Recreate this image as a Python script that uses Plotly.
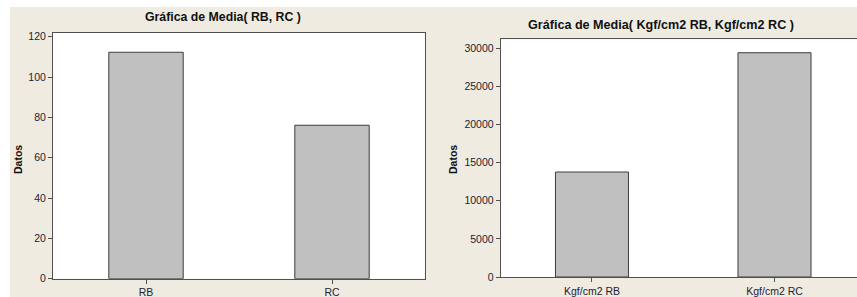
import plotly.graph_objects as go

W, H = 857, 297

cats_left = ["RB", "RC"]
vals_left = [112.3, 76.1]
cats_right = ["Kgf/cm2 RB", "Kgf/cm2 RC"]
vals_right = [13770, 29420]
ticks_left = [0, 20, 40, 60, 80, 100, 120]
ticks_right = [0, 5000, 10000, 15000, 20000, 25000, 30000]

title_left = "Gráfica de Media( RB, RC )"
title_right = "Gráfica de Media( Kgf/cm2 RB, Kgf/cm2 RC )"
ytitle = "Datos"

BEIGE = "#efebe1"
FONT = "Liberation Sans"
TICKC = "#222233"

fig = go.Figure()
bar_style = dict(marker=dict(color="#c0c0c0", line=dict(color="#3c3c3c", width=1)),
                 width=0.4, showlegend=False, hoverinfo="x+y")
fig.add_trace(go.Bar(x=cats_left, y=vals_left, xaxis="x", yaxis="y", **bar_style))
fig.add_trace(go.Bar(x=cats_right, y=vals_right, xaxis="x2", yaxis="y2", **bar_style))


def px(x):
    return x / W


def py(y):
    return 1 - y / H


axis_common = dict(showline=True, linecolor="#505050", linewidth=1, showgrid=False,
                   zeroline=False, ticks="outside", ticklen=4, tickcolor="#505050",
                   automargin=False,
                   tickfont=dict(family=FONT, size=10.5, color=TICKC))

fig.update_layout(
    width=W, height=H,
    margin=dict(l=0, r=0, t=0, b=0, autoexpand=False),
    paper_bgcolor=BEIGE, plot_bgcolor="white",
    xaxis=dict(domain=[px(53), px(425)], range=[-0.5, 1.5], mirror=True,
               anchor="y", **axis_common),
    yaxis=dict(domain=[py(278.7), py(32.7)], range=[0, 122], mirror=True,
               anchor="x", tickvals=ticks_left, tickformat="d", **axis_common),
    xaxis2=dict(domain=[px(500.7), 1], range=[-0.5, 1.452], mirror=True,
                anchor="y2", **axis_common),
    yaxis2=dict(domain=[py(277), py(39.3)], range=[0, 31180], mirror=False,
                anchor="x2", tickvals=ticks_right, tickformat="d", **axis_common),
    shapes=[
        dict(type="rect", xref="paper", yref="paper", x0=0, x1=px(10), y0=0, y1=1,
             fillcolor="white", line=dict(width=0), layer="below"),
        dict(type="rect", xref="paper", yref="paper", x0=0, x1=1, y0=py(7), y1=1,
             fillcolor="white", line=dict(width=0), layer="below"),
    ],
    annotations=[
        dict(text="<b>%s</b>" % title_left, x=px(222.5), y=py(17), xref="paper", yref="paper",
             showarrow=False, xanchor="center", yanchor="middle",
             font=dict(family=FONT, size=12.3, color="#111111")),
        dict(text="<b>%s</b>" % title_right, x=px(660.5), y=py(25), xref="paper", yref="paper",
             showarrow=False, xanchor="center", yanchor="middle",
             font=dict(family=FONT, size=12.6, color="#111111")),
        dict(text="<b>%s</b>" % ytitle, x=px(18), y=py(160), xref="paper", yref="paper",
             showarrow=False, xanchor="center", yanchor="middle", textangle=-90,
             font=dict(family=FONT, size=10.5, color="#111111")),
        dict(text="<b>%s</b>" % ytitle, x=px(453), y=py(160), xref="paper", yref="paper",
             showarrow=False, xanchor="center", yanchor="middle", textangle=-90,
             font=dict(family=FONT, size=10.5, color="#111111")),
    ],
)

fig.write_html("out.html", config={"displayModeBar": False},
               post_script="document.body.style.margin='0';")
